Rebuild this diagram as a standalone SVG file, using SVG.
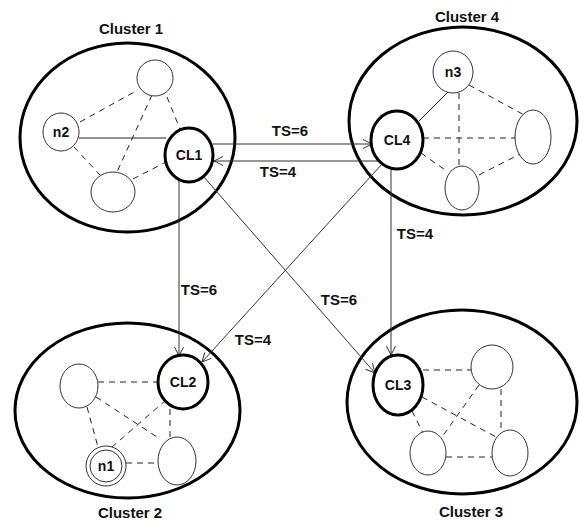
<svg xmlns="http://www.w3.org/2000/svg" width="579" height="522" viewBox="0 0 579 522">
  <style>
    .cluster { fill: none; stroke: #000; stroke-width: 3; }
    .node { fill: #fff; stroke: #333; stroke-width: 1; }
    .head { fill: #fff; stroke: #000; stroke-width: 3; }
    .solid { stroke: #222; stroke-width: 1; fill: none; }
    .dash { stroke: #222; stroke-width: 1; fill: none; stroke-dasharray: 6 5; }
    .link { stroke: #333; stroke-width: 1; fill: none; marker-end: url(#open); }
    text { font-family: "Liberation Sans", Arial, sans-serif; font-weight: bold; fill: #111; text-anchor: middle; }
    .title { font-size: 15px; }
    .ts { font-size: 15px; }
    .lbl { font-size: 14px; }
  </style>
  <defs>
    <marker id="open" viewBox="0 0 10 10" refX="10" refY="5" markerWidth="10" markerHeight="10" markerUnits="userSpaceOnUse" orient="auto">
      <path d="M1,0.5 L10,5 L1,9.5" fill="none" stroke="#333" stroke-width="1"/>
    </marker>
  </defs>

  <rect width="579" height="522" fill="#fff"/>

  <!-- cluster boundaries and titles -->
  <g id="cluster1">
    <ellipse class="cluster" cx="127.5" cy="137.5" rx="107.5" ry="94.5"/>
    <text class="title" x="131" y="34">Cluster 1</text>
  </g>
  <g id="cluster4">
    <ellipse class="cluster" cx="463" cy="121" rx="114" ry="94"/>
    <text class="title" x="467" y="22">Cluster 4</text>
  </g>
  <g id="cluster2">
    <ellipse class="cluster" cx="127.5" cy="410.5" rx="112.5" ry="87.5"/>
    <text class="title" x="130" y="518">Cluster 2</text>
  </g>
  <g id="cluster3">
    <ellipse class="cluster" cx="462" cy="402" rx="115" ry="92"/>
    <text class="title" x="471" y="517">Cluster 3</text>
  </g>

  <g id="connectors">
    <!-- cluster 1 links -->
    <line class="dash" x1="80" y1="122" x2="138" y2="90"/>
    <line class="dash" x1="167" y1="97" x2="180" y2="129"/>
    <line class="dash" x1="152" y1="95" x2="117" y2="172"/>
    <line class="dash" x1="74" y1="147" x2="100" y2="175"/>
    <line class="dash" x1="133" y1="179" x2="166" y2="162"/>
    <line class="solid" x1="79" y1="138" x2="166" y2="138"/>
    <!-- cluster 4 links -->
    <line class="solid" x1="419" y1="121" x2="448" y2="92"/>
    <line class="dash" x1="423" y1="138" x2="515" y2="138"/>
    <line class="dash" x1="459" y1="93" x2="459" y2="166"/>
    <line class="dash" x1="469" y1="85" x2="528" y2="117"/>
    <line class="dash" x1="421" y1="153" x2="448" y2="172"/>
    <line class="dash" x1="479" y1="175" x2="520" y2="154"/>
    <!-- cluster 2 links -->
    <line class="dash" x1="98" y1="382" x2="158" y2="382"/>
    <line class="dash" x1="96" y1="397" x2="160" y2="439"/>
    <line class="dash" x1="87" y1="407" x2="98" y2="447"/>
    <line class="dash" x1="166" y1="400" x2="112" y2="447"/>
    <line class="dash" x1="170" y1="409" x2="170" y2="438"/>
    <line class="dash" x1="126" y1="463" x2="158" y2="463"/>
    <!-- cluster 3 links -->
    <line class="dash" x1="423" y1="370" x2="471" y2="370"/>
    <line class="dash" x1="422" y1="397" x2="496" y2="437"/>
    <line class="dash" x1="412" y1="411" x2="423" y2="433"/>
    <line class="dash" x1="479" y1="385" x2="442" y2="437"/>
    <line class="dash" x1="501" y1="389" x2="501" y2="430"/>
    <line class="dash" x1="446" y1="457" x2="492" y2="457"/>
    <!-- links between cluster heads -->
    <line class="link" x1="213" y1="144" x2="372" y2="144"/>
    <line class="link" x1="378" y1="161" x2="214" y2="161"/>
    <line class="link" x1="179" y1="180" x2="179" y2="356"/>
    <line class="link" x1="391" y1="168" x2="391" y2="355"/>
    <line class="link" x1="203" y1="176" x2="375" y2="373"/>
    <line class="link" x1="382" y1="164" x2="202" y2="362"/>
    <text class="ts" x="290" y="136">TS=6</text>
    <text class="ts" x="278" y="177">TS=4</text>
    <text class="ts" x="199" y="295">TS=6</text>
    <text class="ts" x="339" y="305">TS=6</text>
    <text class="ts" x="253" y="345">TS=4</text>
    <text class="ts" x="415" y="239">TS=4</text>
  </g>

  <!-- cluster 1 members -->
  <g id="c1-top"><ellipse class="node" cx="155" cy="78" rx="18" ry="18"/></g>
  <g id="n2"><ellipse class="node" cx="61" cy="132" rx="18" ry="19"/><text class="lbl" x="61" y="137">n2</text></g>
  <g id="c1-bottom"><ellipse class="node" cx="113" cy="192" rx="22" ry="20"/></g>
  <g id="CL1"><ellipse class="head" cx="189" cy="155" rx="24" ry="27"/><text class="lbl" x="189" y="160">CL1</text></g>

  <!-- cluster 4 members -->
  <g id="n3"><ellipse class="node" cx="453" cy="72" rx="20" ry="21"/><text class="lbl" x="453" y="77">n3</text></g>
  <g id="c4-right"><ellipse class="node" cx="533" cy="137" rx="18" ry="27"/></g>
  <g id="c4-bottom"><ellipse class="node" cx="462" cy="188" rx="17" ry="22"/></g>
  <g id="CL4"><ellipse class="head" cx="397" cy="140" rx="26" ry="29"/><text class="lbl" x="397" y="145">CL4</text></g>

  <!-- cluster 2 members -->
  <g id="c2-left"><ellipse class="node" cx="79" cy="386" rx="19" ry="22"/></g>
  <g id="c2-right"><ellipse class="node" cx="177" cy="461" rx="19" ry="24"/></g>
  <g id="n1">
    <ellipse class="node" cx="106" cy="466" rx="20" ry="20"/>
    <ellipse class="node" cx="106" cy="466" rx="16" ry="16"/>
    <text class="lbl" x="106" y="471">n1</text>
  </g>
  <g id="CL2"><ellipse class="head" cx="183" cy="382" rx="25" ry="27"/><text class="lbl" x="183" y="387">CL2</text></g>

  <!-- cluster 3 members -->
  <g id="c3-top"><ellipse class="node" cx="492" cy="367" rx="21" ry="22"/></g>
  <g id="c3-left"><ellipse class="node" cx="428" cy="453" rx="18" ry="22"/></g>
  <g id="c3-right"><ellipse class="node" cx="510" cy="453" rx="18" ry="23"/></g>
  <g id="CL3"><ellipse class="head" cx="398" cy="385" rx="25" ry="30"/><text class="lbl" x="398" y="390">CL3</text></g>
</svg>
